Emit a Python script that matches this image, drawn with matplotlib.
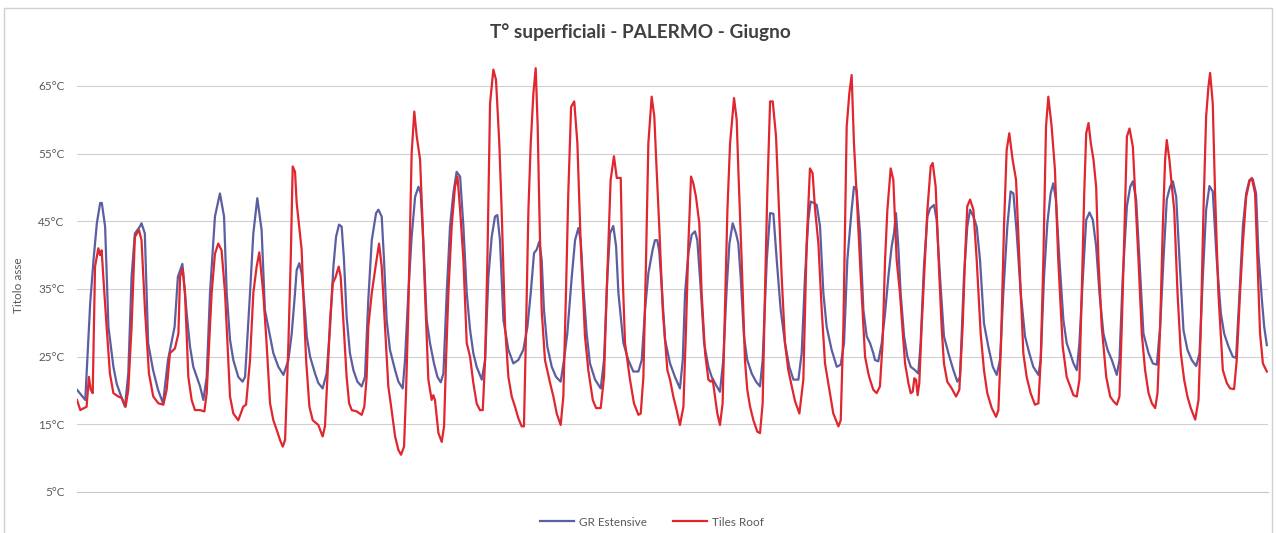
import numpy as np
import matplotlib.pyplot as plt
from matplotlib.patches import Rectangle

plt.rcParams['font.family'] = ['Lato', 'DejaVu Sans']

# ore del mese (0 = 1 giugno 00:00) e temperature superficiali
gr_points = [
    (0, 20.1), (5, 18.6), (7, 28), (8, 33), (10, 39.3), (12, 44.7), (14, 47.7), (15, 47.7), (17, 44.2),
    (19, 29.4), (22, 23.5), (24, 21), (26, 19.6), (29, 17.6), (31, 22.5), (33, 36.8), (35, 43.2), (38, 44.2),
    (39, 44.7), (41, 43.2), (43, 27), (46, 23), (49, 20.1), (52, 18.1), (55, 24.5), (59, 29.4), (61, 36.8),
    (63.7, 38.7), (66.3, 31.4), (68.3, 26.5), (70.3, 23.5), (74.4, 20.6), (76.4, 18.6), (78.4, 22), (80.4, 34.4),
    (83.4, 45.7), (86.4, 49.1), (88.9, 45.7), (90.5, 34.4), (92.5, 27.5), (94.5, 24.5), (97.5, 22), (100.1, 21.3),
    (101.6, 22), (104.6, 34.4), (106.6, 43.2), (109, 48.4), (111.6, 43.7), (113.6, 31.9),
    (116.7, 28), (118.7, 25.5), (121.7, 23.5), (124.8, 22.3), (127.8, 24.5), (129.8, 28.4), (131.8, 34.4),
    (132.8, 37.8), (134.4, 38.8), (135.8, 37.3), (137.9, 31.4), (138.9, 28), (140.9, 25), (143.9, 22.5),
    (145.9, 21.1), (148.5, 20.3), (150.9, 22.5), (153, 29.4), (155, 38.3), (156.6, 42.7), (158.4, 44.5),
    (160, 44.2), (161.4, 39.3), (163, 30.9), (165, 25.5), (167.1, 23), (169.5, 21.3), (172.1, 20.6), (174.1, 22),
    (176.1, 33.4), (178.2, 42.2), (180.8, 46.2), (182.2, 46.7), (184.2, 45.7), (185.6, 39.3), (187.2, 30.4),
    (189.2, 26), (192.3, 23), (194.3, 21.3), (196.9, 20.3), (198.3, 24.5), (200.3, 34.4), (202.3, 42.7),
    (204.4, 48.6), (206.4, 50.1), (207.8, 49.1), (209.4, 41.7), (211.4, 30.4), (213.4, 27), (215.8, 24),
    (217.9, 22), (219.9, 21.2), (221.5, 22.5), (223.5, 34.4), (225.5, 44.2), (227.5, 49.1), (229.5, 52.3),
    (231.6, 51.6), (233.6, 44.2), (235.6, 34.4),
    (237.6, 29), (239.6, 25.5), (241.6, 23.5), (244.7, 21.6), (246.7, 24.5), (248.7, 36.8), (250.7, 42.7),
    (252.7, 45.7), (254.1, 45.9), (255.7, 42.2), (257.8, 30.4), (260.8, 26), (263.8, 24), (266.8, 24.5),
    (269.8, 26), (272.3, 29.4), (274.3, 34.4), (276.3, 40.3), (277.9, 40.8), (279.5, 42), (280.9, 39.3),
    (282.3, 31.9), (284.3, 26.5), (287, 23.5), (289.6, 22), (292.4, 21.3), (294.4, 24.5), (296.4, 28.4),
    (299.1, 36.8), (301.1, 42.2), (303.1, 44), (304.5, 42.2), (306.1, 35.3), (308.1, 28.4), (310.1, 24),
    (313.2, 21.6), (316.6, 20.3), (318.6, 24.5), (320.6, 36.8), (322.2, 43.2), (324.2, 44.3), (325.9, 41.3),
    (327.3, 34.4), (330.3, 27), (333.3, 24.5), (336.3, 22.8), (339.4, 22.8), (341.4, 24.5), (343.4, 31.9),
    (345.4, 37.3), (348, 40.8), (349.4, 42.2), (350.8, 42.2), (352, 40.5), (353.5, 35.3), (355.5, 27.5),
    (358.5, 24), (361.5, 22), (364.5, 20.3), (366.2, 24.5), (367.6, 34.4), (369.6, 40.3), (371.6, 43),
    (373.6, 43.5), (375, 42.2), (377, 35.3), (379.1, 27), (381.7, 23.5), (383.7, 22), (386.3, 20.8),
    (388.7, 19.8), (390.7, 24.5), (392.8, 35.3), (394.4, 41.7), (396.4, 44.7), (398.4, 43.2), (399.8, 41.7),
    (401.2, 36.8), (403.2, 28), (405.2, 24.5), (407.9, 22.5), (410.5, 21.3), (412.9, 20.6), (414.5, 24.5),
    (417, 39.3), (419, 46.2), (421, 46.1), (423, 39.3), (425.4, 31.9), (428, 27), (430.6, 23.5), (433.1, 21.6),
    (436.1, 21.6), (438.1, 25.5), (440.1, 36.8), (442.1, 45.2), (443.5, 47.9), (445.5, 47.7), (447.2, 47.4),
    (449.2, 44.2), (451.2, 34.4), (453.2, 29.4), (456.2, 26), (459.3, 23.5), (461.7, 23.8), (463.7, 27),
    (465.7, 39.3), (468.3, 46.7), (469.7, 50.1), (471.3, 49.6), (473.4, 43.2), (475.4, 31.9), (477.4, 28),
    (479.4, 27), (481.4, 25.5), (482.4, 24.5), (484.4, 24.3), (486.5, 27), (488.5, 31.4), (490.5, 36.8),
    (492.5, 41.3), (493.9, 43.2), (495.1, 46.2), (496.5, 41.3), (497.9, 34.4), (500, 28), (502, 25),
    (504, 23.5), (506.6, 23), (508.6, 22.5), (510, 27), (512, 38.3), (514.1, 45.7), (515.7, 46.9),
    (518.1, 47.4), (519.7, 45.2), (521.7, 36.8), (524.1, 28), (526.8, 25.5), (529.8, 23), (532.2, 21.3),
    (533.8, 22), (536.2, 36.8), (538.2, 44.2), (539.9, 46.7), (541.9, 45.7), (543.9, 44.2), (545.9, 39.3),
    (548.3, 29.9), (550.9, 26.5), (553.6, 23.5), (556, 22.3), (558, 24.5), (560, 34.4), (562.4, 44.2),
    (564.4, 49.4), (566.1, 49.1), (568.1, 43.2), (570.5, 34.4), (573.1, 28), (575.7, 25.5), (578.1, 23.5),
    (581.2, 22.3), (582.6, 24.5), (584.6, 36.8), (586.6, 44.7), (588.6, 49.1), (590.2, 50.6), (591.8, 48.2),
    (593.9, 39.3), (596.3, 30.4), (598.3, 27),
    (600.4, 25.5), (602.4, 24), (604.4, 23), (606, 27), (608.1, 36.8), (610.1, 45.2), (612.1, 46.3),
    (614.1, 45.2), (616.1, 41.3), (618.1, 34.4), (620.5, 28.4), (623, 26), (625.6, 24.5), (628.6, 22.3),
    (630.2, 24.5), (632.2, 36.8), (634.7, 47.2), (636.7, 50.1), (638.3, 50.9), (640.3, 48.2), (642.3, 39.3),
    (644.7, 28.4), (647.8, 25.5), (650.4, 24), (652.8, 23.8), (654.8, 29.4), (656.8, 39.3), (658.8, 48.2),
    (660.8, 50.1), (662.5, 50.9), (664.5, 48.6), (666.5, 39.3), (668.9, 28.9), (671.3, 26), (673.9, 24.5),
    (676.6, 23.6), (678.6, 25.5), (680.6, 36.8), (682.6, 46.7), (684.6, 50.2), (686.6, 49.4), (689, 39.3),
    (691.5, 31.4), (693.5, 28.4), (696.1, 26.5), (698.7, 25), (700.7, 24.8), (702.8, 34.4), (704.8, 44.2),
    (706.8, 49.1), (708.8, 51.1), (710.8, 51.2), (712.8, 49.1), (714.2, 40.3), (716.3, 33.4), (717.7, 29.4),
    (719.3, 26.7),
]

tiles_points = [
    (0, 18.6), (2, 17.1), (5.8, 17.6), (7.2, 22), (8.3, 20.1), (9.5, 19.6), (10.9, 38.3), (12.9, 41), (13.9, 40),
    (14.9, 40.7), (15.9, 36.8), (17.9, 29.4), (19.9, 22.5), (22, 19.6), (25, 19.1), (27, 18.9), (29.4, 17.6),
    (31, 20.1), (33, 29.4), (35, 42.7), (37.5, 43.7), (39, 42.2), (41.1, 31.9), (43.5, 22.5), (46.1, 19.1),
    (49.2, 18.1), (52.2, 17.9), (54.2, 20.1), (56.2, 25.5), (59.2, 26.2), (61.3, 28.4), (62.3, 36.8), (63.9, 38),
    (65.3, 34.4), (67.3, 22), (69.3, 18.6), (71.3, 17.1), (74.4, 17.1), (77, 16.9), (78.4, 19.6), (81.4, 34.4),
    (83.4, 40.2), (85.4, 41.7), (87.4, 40.7), (89.5, 34.4), (92.5, 19.1), (94.5, 16.6), (97.5, 15.6),
    (100.5, 17.6), (102.2, 17.9), (104.6, 24.5), (106.6, 34.4), (108.6, 38.3), (110.2, 40.4), (112.6, 34.4),
    (114.6, 27),
    (116.7, 18.1), (118.7, 15.6), (120.7, 14.2), (122.7, 12.7), (124.4, 11.7), (125.8, 12.7), (126.8, 19.6),
    (127.8, 27), (129.2, 39.3), (130.4, 53.1), (131.8, 52.3), (132.8, 47.7), (135.8, 40.8), (136.8, 34.4),
    (138.5, 24.5), (140.5, 17.6), (142.5, 15.6), (145.9, 14.9), (148.5, 13.2), (149.9, 14.7), (151.4, 22),
    (153, 30.4), (154.6, 35.8), (156.4, 36.8), (158.2, 38.3), (159.4, 36.8), (161, 30.4), (163, 22),
    (164.5, 18.1), (166.1, 17.1), (169.1, 16.9), (172.1, 16.4), (173.7, 17.6), (175.1, 22), (176.1, 29.4),
    (178.2, 34.4), (180.8, 38.8), (182.6, 41.7), (184.2, 38.3), (186.2, 29.4), (188.2, 20.6), (190.2, 17.1),
    (192.3, 13.2), (194.3, 11.2), (195.9, 10.5), (197.7, 11.7), (198.9, 19.6), (200.3, 31.9), (202.3, 55),
    (203.9, 61.2), (205.4, 57.5), (207.4, 54.1), (209, 44.2), (210.4, 34.4), (212.4, 21.6), (214.4, 18.6),
    (215.4, 19.3), (216.4, 18.6), (218.5, 13.7), (220.5, 12.4), (221.9, 14.7), (223.1, 24.5), (224.5, 34.4),
    (226.5, 44.2), (228.5, 50.1), (230, 51.6), (231.6, 46.7), (233.6, 39.3), (235.6, 27),
    (237.6, 25), (239.6, 21.1), (241.6, 18.1), (243.6, 17.1), (245.3, 17.1), (246.7, 24.5), (248.1, 39.3),
    (249.7, 62.4), (251.7, 67.4), (253.3, 65.9), (255.3, 56.5), (256.7, 46.7), (258.8, 29.4), (260.8, 22),
    (262.8, 19.1), (264.8, 17.6), (266.8, 15.9), (268.8, 14.7), (270.2, 14.7), (271.5, 29.4), (272.9, 46.7),
    (274.3, 56.5), (275.9, 63.9), (277.3, 67.6), (278.5, 59), (279.5, 46.7), (280.9, 31.9), (282.9, 24.5),
    (286, 21.1), (288, 19.1), (290, 16.6), (292.4, 14.9), (294, 19.1), (295.6, 34.4), (297, 49.1),
    (298.7, 61.9), (300.6, 62.7), (302.5, 56.5), (304.5, 41.7), (307.1, 28), (309.1, 23), (311.8, 18.6),
    (313.8, 17.4), (316.6, 17.4), (318.6, 22), (320.2, 34.4), (322.6, 51.1), (324.6, 54.6), (326.3, 51.4),
    (328.7, 51.4), (329.9, 36.8), (331.3, 27), (334.3, 21.6), (336.7, 18.1), (339.4, 16.4), (340.8, 16.6),
    (342.4, 22), (344, 39.3), (345.4, 56.5), (347.4, 63.4), (349, 60.5), (350.4, 52.6), (352, 44.2),
    (354.1, 31.9), (356.9, 23),
    (358.5, 21.6), (360.5, 19.1), (362.5, 17.1), (364.5, 14.9), (366.6, 17.6), (368.2, 29.4), (369.6, 41.7),
    (371.2, 51.6), (372.6, 50.6), (374.2, 48.6), (376.2, 44.7), (377.6, 34.4), (379.7, 25.5), (381.7, 21.6),
    (383.1, 21.3), (384.3, 21.6), (385.7, 19.1), (387.1, 16.6), (388.7, 14.9), (390.3, 18.1), (391.7, 31.9),
    (393.2, 46.7), (394.8, 56.5), (397.2, 63.2), (398.8, 60), (399.8, 52.6), (401.8, 39.3), (403.8, 24.5),
    (405.2, 20.1), (406.9, 17.6), (408.9, 15.6), (411.3, 13.9), (412.9, 13.7), (414.5, 18.1), (415.9, 34.4),
    (417.3, 49.1), (419, 62.7), (420.6, 62.7), (422.6, 57.5), (424, 49.1), (426, 36.8), (428, 27), (430, 23),
    (432.1, 20.6), (434.1, 18.4), (436.7, 16.6), (439.1, 21.6), (441.1, 41.7), (443.1, 52.8), (444.7, 52.1),
    (446.2, 46.7), (448.2, 41.7), (450.2, 31.9), (452.2, 24), (454.8, 20.1), (457.2, 16.6), (460.3, 14.7),
    (461.7, 15.6), (463.3, 29.4), (465.3, 59), (466.9, 63.9), (468.3, 66.6), (469.7, 56.5), (471.3, 49.1),
    (473.8, 36.8), (476.4, 25), (478.4, 22.5),
    (479.4, 21.6), (481.4, 20.1), (483.4, 19.6), (485.4, 20.6), (487, 27), (488.5, 39.3), (489.9, 46.7),
    (491.9, 52.8), (493.5, 51.1), (495.5, 39.3), (497.5, 34.4), (499.1, 28.9), (500.6, 24), (502.6, 21.1),
    (504, 19.6), (505.2, 19.8), (506.2, 21.8), (507.2, 21.6), (508.2, 19.3), (509.2, 21.1), (510.6, 29.4),
    (512.6, 39.3), (514.1, 46.7), (516.1, 53.1), (517.3, 53.6), (519.1, 50.1), (520.7, 40.3), (522.7, 29.4),
    (524.1, 24), (526.1, 21.3), (528.8, 20.3), (531.4, 19.1), (533.4, 20.1), (535.4, 29.4), (536.8, 39.3),
    (538.2, 47.2), (539.9, 48.2), (541.9, 46.7), (543.9, 39.3), (546.3, 28.4), (548.3, 23), (550.3, 19.6),
    (553, 17.4), (555.6, 16.1), (557, 17.1), (558.6, 27), (560.4, 44.2), (562, 55.5), (563.6, 58),
    (565.6, 54.1), (567.7, 51.1), (570.1, 36.8), (572.1, 25.5), (574.1, 22), (576.5, 19.6), (579.1, 17.9),
    (581.2, 18.1), (582.6, 24.5), (584.2, 39.3), (585.8, 59), (587.2, 63.4), (589.2, 59), (591.2, 52.6),
    (593.2, 39.3), (595.9, 26.5), (598.3, 22),
    (600.4, 20.6), (602.4, 19.3), (604.4, 19.1), (606, 21.6), (607.4, 34.4), (608.9, 49.1), (610.1, 58),
    (611.5, 59.5), (612.9, 56.5), (614.5, 54.1), (616.1, 50.1), (617.5, 39.3), (619.5, 29.4), (622.2, 22),
    (624.6, 19.1), (626.6, 18.4), (628.6, 17.9), (630.2, 19.1), (631.6, 29.4), (633, 41.7), (634.7, 57.5),
    (636.3, 58.7), (638.3, 56), (639.7, 49.1), (641.7, 39.3), (643.7, 28.4), (645.7, 23), (647.8, 19.6),
    (649.8, 18.1), (651.8, 17.4), (653.2, 19.6), (654.8, 29.4), (656.4, 44.2), (657.8, 54.1), (658.8, 57),
    (660.4, 54.1), (661.9, 50.1), (663.3, 46.7), (665.3, 34.4), (667.3, 25.5), (669.3, 21.6), (671.3, 19.1),
    (673.3, 17.4), (676, 15.7), (678, 18.6), (679.4, 29.4), (681, 46.7), (682.6, 60.5), (684, 64.9),
    (685, 66.9), (686.6, 62.4), (688, 49.1), (690, 34.4), (692.7, 23), (695.1, 21.1), (697.1, 20.3),
    (699.5, 20.2), (701.1, 24.5), (703.1, 34.4), (704.8, 41.7), (706.8, 48.6), (708.8, 50.9), (710.2, 51.4),
    (712.2, 49.1), (713.6, 39.3), (715.2, 28.4), (716.9, 24), (719.3, 22.8),
]

y_ticks = [5, 15, 25, 35, 45, 55, 65]
y_labels = [f"{t}°C" for t in y_ticks]

gr = np.array(gr_points)
tiles = np.array(tiles_points)

fig = plt.figure(figsize=(12.76, 5.33), dpi=100)
ax = fig.add_axes([77 / 1276, 41 / 533, 1191 / 1276, 440 / 533])

ax.plot(gr[:, 0], gr[:, 1], color='#5B5EA0', lw=1.6, label='GR Estensive')
ax.plot(tiles[:, 0], tiles[:, 1], color='#E0262E', lw=1.6, label='Tiles Roof')

ax.set_xlim(0, 720)
ax.set_ylim(5, 70)
ax.set_xticks([])
ax.set_yticks(y_ticks)
ax.set_yticklabels(y_labels)
ax.tick_params(axis='y', length=0, pad=9, labelsize=8.5, labelcolor='#595959')
ax.grid(axis='y', color='#D0D0D0', lw=0.8)
ax.set_axisbelow(True)
for s in ['top', 'right', 'left']:
    ax.spines[s].set_visible(False)
ax.spines['bottom'].set_color('#C8C8C8')
ax.spines['bottom'].set_linewidth(0.8)

fig.text(18 / 1276, 1 - 285 / 533, 'Titolo asse', rotation=90, ha='center', va='center',
         fontsize=8.5, color='#595959')
fig.text(640 / 1276, 1 - 32 / 533, 'T° superficiali - PALERMO - Giugno', ha='center', va='center',
         fontsize=13.7, fontweight='bold', color='#404040')

fig.legend(loc='center', bbox_to_anchor=(652 / 1276, 11 / 533), ncol=2, frameon=False,
           fontsize=8.5, handlelength=2.9, columnspacing=2.2, handletextpad=0.4, labelcolor='#595959')

# bordo del grafico stile Excel
fig.patches.append(Rectangle((4 / 1276, -0.02), 1268 / 1276, 1.02 - 8 / 533, transform=fig.transFigure,
                             fill=False, edgecolor='#D0D0D0', lw=1))

fig.savefig('out.png', dpi=100)
